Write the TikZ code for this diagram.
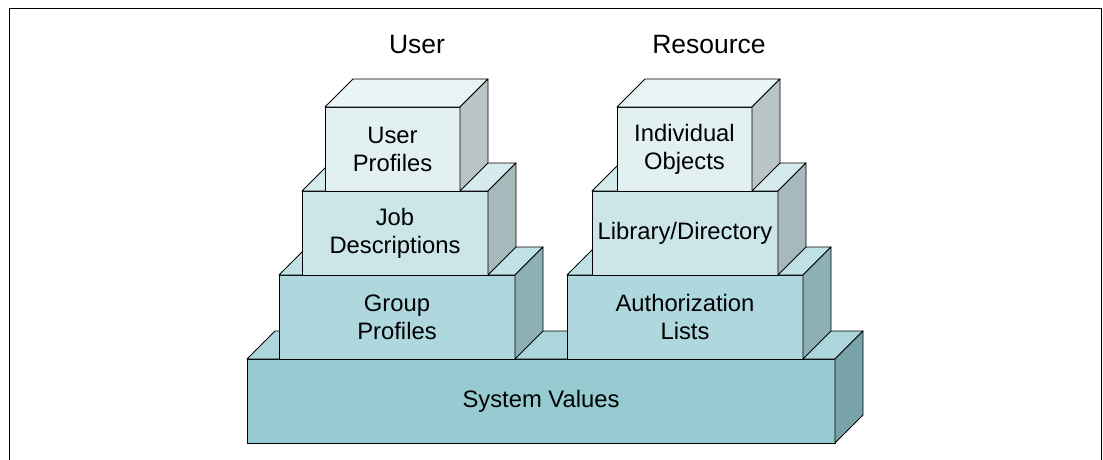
\documentclass[tikz,border=0pt]{standalone}
\usepackage{fontspec}
\setmainfont{Liberation Sans}

% face colours of the four tiers (front / top / side)
\definecolor{sysfront}{RGB}{150,203,209}
\definecolor{systop}{RGB}{172,214,220}
\definecolor{sysside}{RGB}{120,163,168}
\definecolor{grpfront}{RGB}{174,216,222}
\definecolor{grptop}{RGB}{192,226,230}
\definecolor{grpside}{RGB}{141,176,180}
\definecolor{jobfront}{RGB}{204,229,232}
\definecolor{jobtop}{RGB}{213,235,238}
\definecolor{jobside}{RGB}{166,186,188}
\definecolor{usrfront}{RGB}{226,240,242}
\definecolor{usrtop}{RGB}{233,244,246}
\definecolor{usrside}{RGB}{185,197,199}

\tikzset{
  face/.style={draw=black, line width=0.9pt, line join=round},
  front/.style={face, anchor=north west, inner sep=0pt, outer sep=0pt,
    align=center, minimum height=84pt,
    font=\fontsize{23.8}{28}\selectfont},
  heading/.style={font=\fontsize{26.5}{30}\selectfont},
  frame/.style={draw=black, line width=1.4pt}
}

% \stackbox{name}{x}{y}{width}{front}{top}{side}{text}
\newcommand\stackbox[8]{%
  \node[front, fill=#5, minimum width=#4pt] (#1) at (#2,#3) {#8};
  \draw[face, fill=#6] (#1.north west) -- ++(28,-28) -- ++(#4,0)
    -- (#1.north east) -- cycle;
  \draw[face, fill=#7] (#1.north east) -- ++(28,-28) -- ++(0,84)
    -- (#1.south east) -- cycle;
}

\begin{document}
\begin{tikzpicture}[x=1pt, y=-1pt]
  \useasboundingbox (0,0) rectangle (1103,460);

  % open frame around the figure
  \draw[frame] (9.5,461) -- (9.5,8.5) -- (1101.3,8.5) -- (1101.3,461);

  % column headings
  \node[heading] (huser) at (417,45) {User};
  \node[heading] (hres) at (709,45) {Resource};

  % base tier
  \stackbox{sys}{247}{359}{588}{sysfront}{systop}{sysside}{System Values}

  % second tier
  \stackbox{grp}{279}{275}{236}{grpfront}{grptop}{grpside}{Group\\Profiles}
  \stackbox{auth}{567}{275}{236}{grpfront}{grptop}{grpside}{Authorization\\Lists}

  % third tier
  \stackbox{job}{302}{191}{186}{jobfront}{jobtop}{jobside}{Job\\Descriptions}
  \stackbox{lib}{592}{191}{186}{jobfront}{jobtop}{jobside}{Library/Directory}

  % top tier
  \stackbox{usr}{325}{107}{135}{usrfront}{usrtop}{usrside}{User\\Profiles}
  \stackbox{obj}{617}{107}{135}{usrfront}{usrtop}{usrside}{Individual\\Objects}
\end{tikzpicture}
\end{document}
